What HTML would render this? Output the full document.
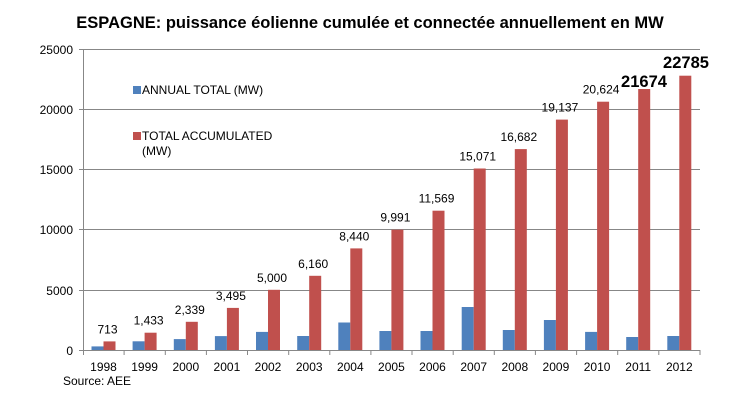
<!DOCTYPE html>
<html><head><meta charset="utf-8"><style>body{margin:0;background:#fff}svg{display:block}text{font-family:"Liberation Sans",sans-serif}</style></head><body>
<svg width="740" height="411" viewBox="0 0 740 411">
<text x="370" y="28" text-anchor="middle" font-size="16.5" font-weight="bold">ESPAGNE: puissance éolienne cumulée et connectée annuellement en MW</text>
<g stroke="#878787" stroke-width="1">
<line x1="83" y1="49.5" x2="700" y2="49.5"/><line x1="83" y1="109.5" x2="700" y2="109.5"/><line x1="83" y1="169.5" x2="700" y2="169.5"/><line x1="83" y1="229.5" x2="700" y2="229.5"/><line x1="83" y1="290.5" x2="700" y2="290.5"/><line x1="79" y1="350.5" x2="700" y2="350.5"/>
<line x1="83.5" y1="49" x2="83.5" y2="355"/>
<line x1="79" y1="49.5" x2="83" y2="49.5"/><line x1="79" y1="109.5" x2="83" y2="109.5"/><line x1="79" y1="169.5" x2="83" y2="169.5"/><line x1="79" y1="229.5" x2="83" y2="229.5"/><line x1="79" y1="290.5" x2="83" y2="290.5"/>
<line x1="124.1" y1="350" x2="124.1" y2="355"/><line x1="165.3" y1="350" x2="165.3" y2="355"/><line x1="206.4" y1="350" x2="206.4" y2="355"/><line x1="247.5" y1="350" x2="247.5" y2="355"/><line x1="288.7" y1="350" x2="288.7" y2="355"/><line x1="329.8" y1="350" x2="329.8" y2="355"/><line x1="370.9" y1="350" x2="370.9" y2="355"/><line x1="412" y1="350" x2="412" y2="355"/><line x1="453.2" y1="350" x2="453.2" y2="355"/><line x1="494.3" y1="350" x2="494.3" y2="355"/><line x1="535.4" y1="350" x2="535.4" y2="355"/><line x1="576.6" y1="350" x2="576.6" y2="355"/><line x1="617.7" y1="350" x2="617.7" y2="355"/><line x1="658.8" y1="350" x2="658.8" y2="355"/><line x1="700" y1="350" x2="700" y2="355"/>
</g>
<g font-size="12" text-anchor="end">
<text x="73" y="54">25000</text><text x="73" y="114">20000</text><text x="73" y="174">15000</text><text x="73" y="234">10000</text><text x="73" y="295">5000</text><text x="73" y="355">0</text>
</g>
<g fill="#4f81bd">
<rect x="91.5" y="346.4" width="12" height="3.6"/>
<rect x="132.6" y="341.3" width="12" height="8.7"/>
<rect x="173.8" y="339.1" width="12" height="10.9"/>
<rect x="214.9" y="336.1" width="12" height="13.9"/>
<rect x="256" y="331.9" width="12" height="18.1"/>
<rect x="297.2" y="336" width="12" height="14"/>
<rect x="338.3" y="322.5" width="12" height="27.5"/>
<rect x="379.4" y="331" width="12" height="19"/>
<rect x="420.5" y="331" width="12" height="19"/>
<rect x="461.7" y="307" width="12" height="43"/>
<rect x="502.8" y="330" width="12" height="20"/>
<rect x="543.9" y="320" width="12" height="30"/>
<rect x="585.1" y="331.9" width="12" height="18.1"/>
<rect x="626.2" y="337" width="12" height="13"/>
<rect x="667.3" y="336" width="12" height="14"/>
</g>
<g fill="#c0504d">
<rect x="103.5" y="341.4" width="12" height="8.6"/>
<rect x="144.6" y="332.7" width="12" height="17.3"/>
<rect x="185.8" y="321.8" width="12" height="28.2"/>
<rect x="226.9" y="307.9" width="12" height="42.1"/>
<rect x="268" y="289.8" width="12" height="60.2"/>
<rect x="309.2" y="275.8" width="12" height="74.2"/>
<rect x="350.3" y="248.4" width="12" height="101.6"/>
<rect x="391.4" y="229.7" width="12" height="120.3"/>
<rect x="432.5" y="210.7" width="12" height="139.3"/>
<rect x="473.7" y="168.5" width="12" height="181.5"/>
<rect x="514.8" y="149.1" width="12" height="200.9"/>
<rect x="555.9" y="119.6" width="12" height="230.4"/>
<rect x="597.1" y="101.7" width="12" height="248.3"/>
<rect x="638.2" y="89" width="12" height="261"/>
<rect x="679.3" y="75.7" width="12" height="274.3"/>
</g>
<g font-size="12" text-anchor="middle">
<text x="107.5" y="333.4">713</text>
<text x="148.6" y="324.7">1,433</text>
<text x="189.8" y="313.8">2,339</text>
<text x="230.9" y="299.9">3,495</text>
<text x="272" y="281.8">5,000</text>
<text x="313.2" y="267.8">6,160</text>
<text x="354.3" y="240.4">8,440</text>
<text x="395.4" y="221.7">9,991</text>
<text x="436.5" y="202.7">11,569</text>
<text x="477.7" y="160.5">15,071</text>
<text x="518.8" y="141.1">16,682</text>
<text x="559.9" y="111.6">19,137</text>
<text x="601.1" y="93.7">20,624</text>
</g>
<g font-size="16.5" font-weight="bold" text-anchor="middle">
<text x="644" y="87">21674</text>
<text x="686" y="68">22785</text>
</g>
<g font-size="12" text-anchor="middle">
<text x="103.5" y="371">1998</text><text x="144.6" y="371">1999</text><text x="185.8" y="371">2000</text><text x="226.9" y="371">2001</text><text x="268" y="371">2002</text><text x="309.2" y="371">2003</text><text x="350.3" y="371">2004</text><text x="391.4" y="371">2005</text><text x="432.5" y="371">2006</text><text x="473.7" y="371">2007</text><text x="514.8" y="371">2008</text><text x="555.9" y="371">2009</text><text x="597.1" y="371">2010</text><text x="638.2" y="371">2011</text><text x="679.3" y="371">2012</text>
</g>
<rect x="133" y="86" width="8" height="8" fill="#4f81bd"/><text x="142" y="94" font-size="12">ANNUAL TOTAL (MW)</text>
<rect x="133" y="132" width="8" height="8" fill="#c0504d"/><text x="142" y="140" font-size="12">TOTAL ACCUMULATED</text><text x="142" y="155" font-size="12">(MW)</text>
<text x="63" y="385" font-size="12">Source: AEE</text>
</svg>
</body></html>
